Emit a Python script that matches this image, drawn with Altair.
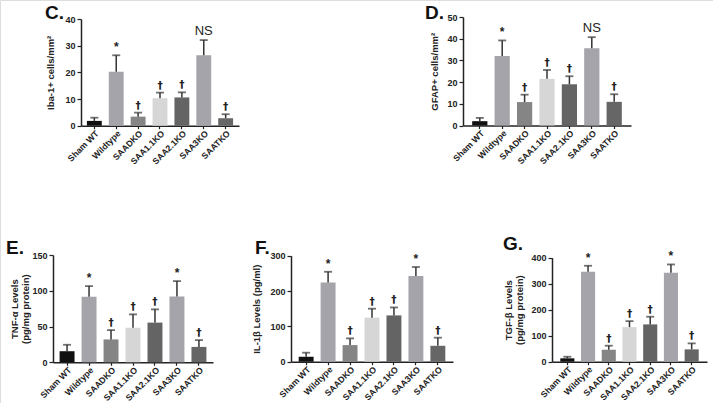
import altair as alt
import pandas as pd

groups = ["Sham WT", "Wildtype", "SAADKO", "SAA1.1KO", "SAA2.1KO", "SAA3KO", "SAATKO"]
colors = ["#111111", "#a4a4aa", "#858585", "#d6d6d6", "#646464", "#a4a4aa", "#666666"]

c_mean = [1.8, 20.2, 3.4, 10.3, 10.6, 26.4, 2.8]
c_upper = [3.0, 26.4, 4.9, 12.4, 12.5, 32.1, 4.3]
c_mark = ["", "*", "†", "†", "†", "NS", "†"]

d_mean = [2.0, 32.0, 10.8, 21.5, 19.0, 35.6, 10.9]
d_upper = [3.5, 39.2, 14.2, 25.6, 22.7, 40.7, 14.4]
d_mark = ["", "*", "†", "†", "†", "NS", "†"]

e_mean = [15.5, 91.5, 32.0, 48.3, 55.5, 92.0, 21.5]
e_upper = [24.5, 106.5, 45.0, 67.0, 74.0, 113.5, 31.0]
e_mark = ["", "*", "†", "†", "†", "*", "†"]

f_mean = [14.0, 224.5, 47.0, 124.5, 131.0, 242.5, 45.0]
f_upper = [25.5, 254.5, 66.0, 150.0, 153.5, 268.0, 68.0]
f_mark = ["", "*", "†", "†", "†", "*", "†"]

g_mean = [13.0, 346.0, 46.0, 133.0, 143.5, 342.0, 47.5]
g_upper = [19.0, 369.0, 61.5, 156.0, 173.0, 374.0, 70.5]
g_mark = ["", "*", "†", "†", "†", "*", "†"]

FONT = "Liberation Sans"
W, H = 713, 403


def panel(mean, upper, marks, ymax, ystep, title, xr, yr, o, tpad):
    df = pd.DataFrame({"group": groups, "mean": mean, "upper": upper, "mark": marks})
    base = alt.Chart(df)
    xscale = alt.Scale(domain=groups, range=xr, paddingInner=0.32, paddingOuter=o)
    yscale = alt.Scale(domain=[0, ymax], range=yr, nice=False, zero=True)
    xaxis = alt.Axis(orient="bottom", offset=yr[0] - H, labelAngle=-45, labelAlign="right",
                     labelBaseline="top", labelFont=FONT, labelFontSize=8.7, labelFontWeight="bold",
                     labelColor="#222", tickSize=3, tickColor="#222", domainColor="#222",
                     domainWidth=1.5, tickWidth=1.2, labelPadding=0, grid=False, title=None)
    yaxis = alt.Axis(orient="left", offset=-xr[0], values=list(range(0, ymax + 1, ystep)),
                     labelFont=FONT, labelFontSize=9, labelFontWeight="bold", labelColor="#222",
                     tickSize=4, tickColor="#222", tickWidth=1.2, domainColor="#222", domainWidth=1.5,
                     labelPadding=2, grid=False, title=title, titleFont=FONT, titleFontSize=9.5,
                     titleFontWeight="bold", titleColor="#222", titlePadding=tpad)
    X = alt.X("group:N", sort=groups, scale=xscale, axis=xaxis, title=None)
    bars = base.mark_bar().encode(
        x=X,
        y=alt.Y("mean:Q", scale=yscale, axis=yaxis, title=title),
        color=alt.Color("group:N", scale=alt.Scale(domain=groups, range=colors), legend=None),
    )
    rule = base.mark_rule(color="#333", strokeWidth=1.5).encode(
        x=X, y=alt.Y("mean:Q", scale=yscale, axis=yaxis, title=title), y2="upper:Q")
    cap = base.mark_tick(color="#333", size=8, thickness=1.8).encode(
        x=X, y=alt.Y("upper:Q", scale=yscale, axis=yaxis, title=title))
    star = base.transform_filter("datum.mark == '*'").mark_text(
        baseline="bottom", dy=-1, font=FONT, fontSize=12, fontWeight="bold", color="#222").encode(
        x=X, y=alt.Y("upper:Q", scale=yscale, axis=yaxis, title=title), text="mark:N")
    dag = base.transform_filter("datum.mark == '†'").mark_text(
        baseline="bottom", dy=-2, font="DejaVu Sans", fontSize=10.5, fontWeight="bold", color="#222").encode(
        x=X, y=alt.Y("upper:Q", scale=yscale, axis=yaxis, title=title), text="mark:N")
    ns = base.transform_filter("datum.mark == 'NS'").mark_text(
        baseline="bottom", dy=-2, font=FONT, fontSize=13, color="#222").encode(
        x=X, y=alt.Y("upper:Q", scale=yscale, axis=yaxis, title=title), text="mark:N")
    return alt.layer(bars, rule, cap, star, dag, ns)


pC = panel(c_mean, c_upper, c_mark, 40, 10, "Iba-1+ cells/mm²", [81, 239], [125.7, 19], 0.27, 9)
pD = panel(d_mean, d_upper, d_mark, 50, 10, "GFAP+ cells/mm²", [463, 631], [125.5, 17], 0.41, 7)
pE = panel(e_mean, e_upper, e_mark, 150, 50, ["TNF-α Levels", "(pg/mg protein)"], [53, 213], [362.3, 255], 0.3, 1)
pF = panel(f_mean, f_upper, f_mark, 300, 100, "IL-1β Levels (pg/ml)", [291, 453], [361.7, 255.7], 0.35, 8)
pG = panel(g_mean, g_upper, g_mark, 400, 100, ["TGF-β Levels", "(pg/mg protein)"], [552, 707], [361.7, 257.7], 0.4, 6)

letters = ["C.", "D.", "E.", "F.", "G."]
lx = [45, 425, 6, 255, 503]
ly = [19, 19, 254, 254, 250]
lab = []
for t, x, y in zip(letters, lx, ly):
    lab.append(alt.Chart(pd.DataFrame({"t": [t]})).mark_text(
        align="left", baseline="alphabetic", font=FONT, fontSize=19, fontWeight="bold", color="#111").encode(
        x=alt.value(x), y=alt.value(y), text="t:N"))

chart = alt.layer(pC, pD, pE, pF, pG, *lab).resolve_scale(
    x="independent", y="independent").resolve_axis(x="independent", y="independent").properties(
    width=W, height=H, padding=0, autosize=alt.AutoSizeParams(type="none")
).configure_view(stroke=None).configure(background="white")

chart.save("out.html", embed_options={"renderer": "svg", "actions": False})
